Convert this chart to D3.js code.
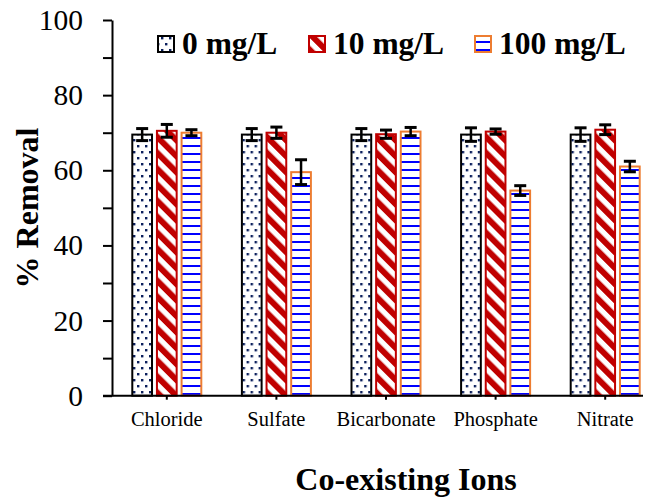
<!DOCTYPE html>
<html>
<head>
<meta charset="utf-8">
<script src="https://cdn.jsdelivr.net/npm/d3@7"></script>
<style>
  html, body { margin: 0; padding: 0; background: #fff; }
  svg { display: block; }
  text { font-family: "Liberation Serif", "Times New Roman", serif; fill: #000; }
</style>
</head>
<body>
<svg id="chart" width="652" height="499"></svg>
<script>
// Co-existing ion categories and the three ion concentrations
const categories = ["Chloride", "Sulfate", "Bicarbonate", "Phosphate", "Nitrate"];
const seriesNames = ["0 mg/L", "10 mg/L", "100 mg/L"];

// % removal for each concentration, per ion
const removal0 = [69.5, 69.5, 69.5, 69.5, 69.5];
const removal10 = [70.5, 70.0, 69.6, 70.3, 70.8];
const removal100 = [70.0, 59.5, 70.3, 54.6, 61.0];

// standard deviations
const err0 = [1.6, 1.6, 1.6, 1.8, 1.8];
const err10 = [1.7, 1.5, 1.1, 0.7, 1.3];
const err100 = [0.8, 3.3, 1.1, 1.3, 1.4];

const yTicks = [0, 20, 40, 60, 80, 100];

const seriesValues = [removal0, removal10, removal100];
const seriesErrors = [err0, err10, err100];

const svg = d3.select("#chart");

// fill patterns
const defs = svg.append("defs");

const pDots = defs.append("pattern").attr("id", "pDots")
  .attr("patternUnits", "userSpaceOnUse").attr("width", 8).attr("height", 12);
pDots.append("rect").attr("width", 8).attr("height", 12).attr("fill", "#fff");
pDots.append("rect").attr("x", 1).attr("y", 1).attr("width", 2.4).attr("height", 2.4).attr("fill", "#0b1f5c");
pDots.append("rect").attr("x", 5).attr("y", 7).attr("width", 2.4).attr("height", 2.4).attr("fill", "#0b1f5c");

const pDiag = defs.append("pattern").attr("id", "pDiag")
  .attr("patternUnits", "userSpaceOnUse").attr("width", 11.3).attr("height", 11.3)
  .attr("patternTransform", "rotate(-45)");
pDiag.append("rect").attr("width", 11.3).attr("height", 11.3).attr("fill", "#fff");
pDiag.append("rect").attr("x", 0).attr("width", 6).attr("height", 11.3).attr("fill", "#c00000");

const pLines = defs.append("pattern").attr("id", "pLines")
  .attr("patternUnits", "userSpaceOnUse").attr("width", 8).attr("height", 8).attr("y", 1);
pLines.append("rect").attr("width", 8).attr("height", 8).attr("fill", "#fff");
pLines.append("rect").attr("y", 0).attr("width", 8).attr("height", 2).attr("fill", "#0000ff");

const fills = ["url(#pDots)", "url(#pDiag)", "url(#pLines)"];
const borders = ["#000000", "#c00000", "#ed7d31"];

// scales
const plotLeft = 112, plotRight = 660, plotTop = 20, plotBottom = 395.7;
const x0 = d3.scaleBand().domain(categories).range([plotLeft, plotRight]).paddingInner(0).paddingOuter(0);
const bw = x0.bandwidth();
const x1 = d3.scaleBand().domain(seriesNames)
  .range([bw / 2 - 34.5, bw / 2 + 34.5]).paddingInner(0.2).paddingOuter(0);
const y = d3.scaleLinear().domain([0, 100]).range([plotBottom, plotTop]);

// bars
const groups = svg.append("g").selectAll("g")
  .data(categories).join("g")
  .attr("transform", d => `translate(${x0(d)},0)`);

groups.each(function (cat, ci) {
  const g = d3.select(this);
  seriesNames.forEach((s, si) => {
    const v = seriesValues[si][ci];
    g.append("rect")
      .attr("x", x1(s))
      .attr("y", y(v))
      .attr("width", x1.bandwidth())
      .attr("height", y(0) - y(v))
      .attr("fill", fills[si])
      .attr("stroke", borders[si])
      .attr("stroke-width", 2);
  });
});

// error bars
groups.each(function (cat, ci) {
  const g = d3.select(this);
  seriesNames.forEach((s, si) => {
    const v = seriesValues[si][ci], e = seriesErrors[si][ci];
    const cx = x1(s) + x1.bandwidth() / 2;
    const eb = g.append("g").attr("stroke", "#000");
    eb.append("line").attr("x1", cx).attr("x2", cx)
      .attr("y1", y(v + e)).attr("y2", y(v - e)).attr("stroke-width", 2.5);
    [v + e, v - e].forEach(t => {
      eb.append("line").attr("x1", cx - 6).attr("x2", cx + 6)
        .attr("y1", y(t)).attr("y2", y(t)).attr("stroke-width", 3);
    });
  });
});

// y axis
const yAxis = d3.axisLeft(y).tickValues(d3.range(0, 101, 10)).tickSize(9).tickSizeOuter(0)
  .tickFormat(d => yTicks.includes(d) ? d : "");
const gy = svg.append("g").attr("transform", `translate(${plotLeft},0)`).call(yAxis);
gy.select(".domain").attr("stroke-width", 2);
gy.selectAll(".tick line").attr("stroke-width", 2);
gy.selectAll(".tick text")
  .attr("x", -29)
  .style("font-family", "'Liberation Serif', 'Times New Roman', serif")
  .style("font-size", "29.5px").attr("fill", "#000");

// x axis
const xAxis = d3.axisBottom(x0).tickSize(4).tickSizeOuter(0);
const gx = svg.append("g").attr("transform", `translate(0,${plotBottom})`).call(xAxis);
gx.select(".domain").attr("d", `M${plotLeft - 9},0H643`).attr("stroke-width", 2);
gx.selectAll(".tick line").attr("stroke-width", 2);
gx.selectAll(".tick text")
  .attr("y", 16)
  .style("font-family", "'Liberation Serif', 'Times New Roman', serif")
  .style("font-size", "20.5px").attr("fill", "#000");

// axis titles
svg.append("text")
  .attr("transform", "translate(38,208) rotate(-90)")
  .attr("text-anchor", "middle")
  .style("font-size", "32px").style("font-weight", "bold")
  .text("% Removal");

svg.append("text")
  .attr("x", 406).attr("y", 490)
  .attr("text-anchor", "middle")
  .style("font-size", "32px").style("font-weight", "bold")
  .text("Co-existing Ions");

// legend
const legendX = [158, 309, 475];
const legend = svg.append("g");
seriesNames.forEach((s, i) => {
  legend.append("rect")
    .attr("x", legendX[i]).attr("y", 36)
    .attr("width", 16).attr("height", 16)
    .attr("fill", fills[i]).attr("stroke", borders[i]).attr("stroke-width", 2);
  legend.append("text")
    .attr("x", legendX[i] + 24).attr("y", 54)
    .style("font-size", "31.5px").style("font-weight", "bold")
    .text(s);
});
</script>
</body>
</html>
